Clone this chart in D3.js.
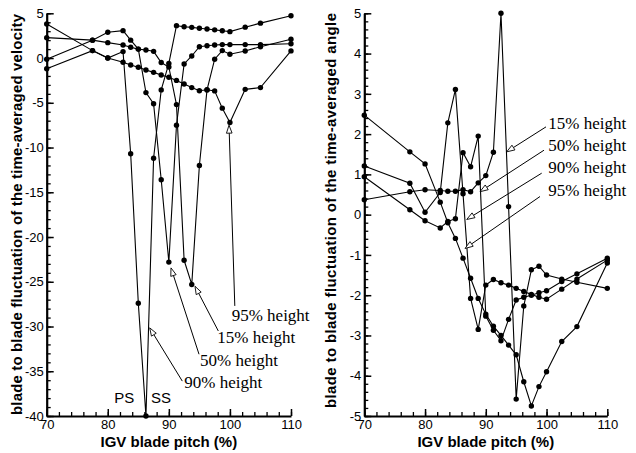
<!DOCTYPE html>
<html><head><meta charset="utf-8">
<script src="https://cdn.jsdelivr.net/npm/d3@7"></script>
<style>body{margin:0;background:#fff}svg{display:block}</style>
</head><body>
<svg id="chart" width="636" height="453"></svg>
<script>
// ---- data ----
const pitch = [70,77.5,80,82.5,83.75,85,86.25,87.5,88.75,90,91.25,92.5,93.75,95,96.25,97.5,98.75,100,102.5,105,110];
const velocity15 = [2.28,2.0,1.72,1.46,1.2,1.0,0.9,0.75,-0.5,-1.0,-5.2,-22.6,-25.3,-12.0,-3.56,-0.13,0.83,0.42,0.79,1.27,2.1];
const velocity50 = [-0.13,2.0,2.88,3.06,2.0,1.0,-3.86,-5.1,-13.6,-22.8,-7.5,-0.66,0.23,1.27,1.38,1.45,1.5,1.5,1.5,1.5,1.6];
const velocity90 = [-1.2,0.83,0.0,0.72,-10.7,-27.4,-40,-11.2,-3.56,-0.6,3.62,3.5,3.43,3.33,3.25,3.15,3.05,2.95,3.45,3.9,4.73];
const velocity95 = [3.8,0.83,0.0,-0.47,-0.77,-1.03,-1.33,-1.6,-1.9,-2.15,-2.5,-2.9,-3.3,-3.65,-3.55,-3.67,-5.6,-7.2,-3.5,-3.3,0.8];
const angle15 = [0.37,0.57,0.62,0.6,0.58,0.58,0.62,0.57,0.79,0.97,1.55,5.0,0.2,-4.58,-2.27,-1.37,-1.28,-1.5,-1.6,-1.68,-1.83];
const angle50 = [0.94,0.12,-0.15,-0.33,-0.17,-0.1,1.54,1.19,1.95,-2.52,-2.87,-3.13,-2.6,-2.12,-2.05,-2.0,-1.94,-1.89,-1.66,-1.47,-1.08];
const angle90 = [1.21,0.78,0.06,0.55,2.28,3.11,0.52,-2.08,-2.85,-1.75,-1.61,-1.69,-1.75,-1.83,-1.91,-1.98,-2.05,-2.1,-1.85,-1.6,-1.13];
const angle95 = [2.47,1.56,1.26,0.31,-0.2,-0.59,-1.08,-1.58,-2.08,-2.47,-2.77,-3.0,-3.24,-3.48,-4.15,-4.75,-4.27,-3.9,-3.15,-2.78,-1.2];
const seriesNames = ["15% height","50% height","90% height","95% height"];
const pitchTicks = [70,80,90,100,110];
const velocityTicks = [-40,-35,-30,-25,-20,-15,-10,-5,0,5];
const angleTicks = [-5,-4,-3,-2,-1,0,1,2,3,4,5];
// annotation arrows (data units): label position, arrow tail, arrow tip
const velocityNotes = [
  {name:"95% height", lx:100.29, ly:-29.4, tx:100.8, ty:-27.7, px:99.85, py:-7.5},
  {name:"15% height", lx:97.93, ly:-31.85, tx:98.1, ty:-30.5, px:94.28, py:-25.5},
  {name:"50% height", lx:95.1, ly:-34.4, tx:94.94, ty:-33.1, px:90.35, py:-23.45},
  {name:"90% height", lx:92.53, ly:-36.9, tx:92.2, ty:-36.1, px:86.86, py:-30.15}
];
const angleNotes = [
  {name:"15% height", lx:100.29, ly:2.13, tx:99.91, ty:2.18, px:93.44, py:1.56},
  {name:"50% height", lx:100.29, ly:1.58, tx:99.58, ty:1.6, px:89.05, py:0.57},
  {name:"90% height", lx:100.29, ly:1.03, tx:99.2, ty:1.03, px:86.86, py:-0.12},
  {name:"95% height", lx:100.29, ly:0.46, tx:98.92, ty:0.45, px:86.58, py:-0.84}
];

const svg = d3.select("#chart");
const sans = "'Liberation Sans', Arial, Helvetica, sans-serif";
const serif = "'Liberation Serif', 'Times New Roman', serif";

function panel(cfg){
  const x = d3.scaleLinear().domain([70,110]).range(cfg.xr);
  const y = d3.scaleLinear().domain(cfg.yd).range([416,13.3]);
  const g = svg.append("g");
  // minor ticks
  const minorX = d3.range(70,110.01,2);
  g.append("g").attr("transform","translate(0,416)")
    .call(d3.axisBottom(x).tickValues(minorX).tickSize(-4).tickSizeOuter(0).tickFormat(""))
    .call(a=>a.select(".domain").remove()).selectAll("line").attr("stroke-width",1.3);
  g.append("g").attr("transform",`translate(${cfg.xr[0]},0)`)
    .call(d3.axisLeft(y).tickValues(cfg.minorY).tickSize(-4).tickSizeOuter(0).tickFormat(""))
    .call(a=>a.select(".domain").remove()).selectAll("line").attr("stroke-width",1.3);
  // major
  const ax = g.append("g").attr("transform","translate(0,416)")
    .call(d3.axisBottom(x).tickValues(pitchTicks).tickSize(-7).tickSizeOuter(0).tickPadding(4).tickFormat(d=>String(d)));
  const ay = g.append("g").attr("transform",`translate(${cfg.xr[0]},0)`)
    .call(d3.axisLeft(y).tickValues(cfg.ticks).tickSize(-7).tickSizeOuter(0).tickPadding(3).tickFormat(d=>String(d)));
  [ax,ay].forEach(a=>{
    a.select(".domain").attr("stroke-width",2.2);
    a.selectAll("line").attr("stroke-width",1.5);
    a.selectAll("text").attr("font-family",sans).attr("font-size",13).attr("fill","#000");
  });
  // titles
  g.append("text").attr("x",(cfg.xr[0]+cfg.xr[1])/2).attr("y",447).attr("text-anchor","middle")
    .attr("font-family",sans).attr("font-weight","bold").attr("font-size",15).text("IGV blade pitch (%)");
  g.append("text").attr("transform",`translate(${cfg.ytx},${cfg.ytc}) rotate(-90)`).attr("text-anchor","middle")
    .attr("font-family",sans).attr("font-weight","bold").attr("font-size",15)
    .attr("textLength",cfg.ytl).attr("lengthAdjust","spacing").text(cfg.ytitle);
  // series
  const line = d3.line().x((d,i)=>x(pitch[i])).y(d=>y(d));
  cfg.series.forEach(s=>{
    g.append("path").attr("d",line(s)).attr("fill","none").attr("stroke","#000").attr("stroke-width",1.1);
    g.selectAll(null).data(s).enter().append("circle")
      .attr("cx",(d,i)=>x(pitch[i])).attr("cy",d=>y(d)).attr("r",2.7).attr("fill","#000");
  });
  // annotations
  cfg.notes.forEach(n=>{
    const tx=x(n.tx), ty=y(n.ty), px=x(n.px), py=y(n.py);
    const dx=px-tx, dy=py-ty, L=Math.hypot(dx,dy), ux=dx/L, uy=dy/L;
    const bx=px-8*ux, by=py-8*uy, nx=-uy, ny=ux;
    g.append("line").attr("x1",tx).attr("y1",ty).attr("x2",bx).attr("y2",by).attr("stroke","#000").attr("stroke-width",1);
    g.append("polygon").attr("points",[[px,py],[bx+2.8*nx,by+2.8*ny],[bx-2.8*nx,by-2.8*ny]].map(p=>p.join(",")).join(" "))
      .attr("fill","#fff").attr("stroke","#000").attr("stroke-width",0.9);
    g.append("text").attr("x",x(n.lx)).attr("y",y(n.ly)).attr("font-family",serif).attr("font-size",17).text(n.name);
  });
  return {g,x,y};
}

const left = panel({xr:[46.7,291], yd:[-40,5], ticks:velocityTicks, minorY:d3.range(-40,5.01,1),
  ytitle:"blade to blade fluctuation of the time-averaged velocity", ytx:22, ytc:214.5, ytl:401,
  series:[velocity15,velocity50,velocity90,velocity95], notes:velocityNotes});
left.g.append("text").attr("x",left.x(81.06)).attr("y",402.7).attr("font-family",sans).attr("font-size",15).text("PS");
left.g.append("text").attr("x",left.x(87.07)).attr("y",402.7).attr("font-family",sans).attr("font-size",15).text("SS");

panel({xr:[364.3,607.3], yd:[-5,5], ticks:angleTicks, minorY:d3.range(-5,5.001,0.2),
  ytitle:"blade to blade fluctuation of the time-averaged angle", ytx:336, ytc:210.5, ytl:395,
  series:[angle15,angle50,angle90,angle95], notes:angleNotes});
</script>
</body></html>
